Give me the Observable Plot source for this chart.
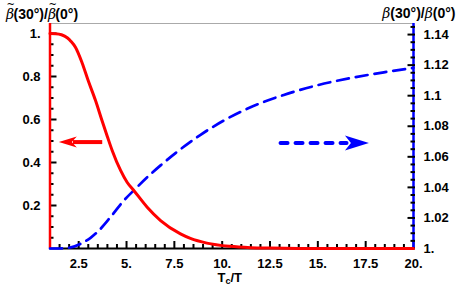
<!DOCTYPE html>
<html><head><meta charset="utf-8">
<script src="https://cdn.jsdelivr.net/npm/d3@7"></script>
<script src="https://cdn.jsdelivr.net/npm/@observablehq/plot@0.6"></script>
<style>body{margin:0;background:#fff;}</style>
</head><body><div id="chart"></div>
<script>
// Red curve: ratio of tilde-beta (left axis)
const redT = [1, 1.3, 1.6, 1.9, 2.1, 2.33, 2.68, 3.0, 3.38, 3.7, 4.0, 4.25, 4.69, 5.03, 5.38, 6.08, 6.78, 7.82, 8.34, 9.2, 10.4, 11.5, 12.5, 14, 16, 18, 20];
const redV = [1.0, 0.999, 0.994, 0.98, 0.963, 0.936, 0.863, 0.78, 0.688, 0.6, 0.52, 0.456, 0.363, 0.308, 0.27, 0.192, 0.13, 0.068, 0.047, 0.025, 0.01, 0.004, 0.002, 0.0005, 0.0001, 0, 0];
// Blue curve: ratio of beta (right axis)
const blueT = [1, 1.5, 2.0, 2.59, 3.12, 3.47, 4.16, 4.86, 5.38, 6.08, 6.78, 7.65, 8.87, 10.08, 11.48, 13.22, 14.97, 16.7, 18.45, 20];
const blueV = [1.0, 1.0, 1.0005, 1.003, 1.007, 1.0107, 1.0205, 1.0314, 1.038, 1.0466, 1.0544, 1.0633, 1.0744, 1.0837, 1.0924, 1.1005, 1.1068, 1.1115, 1.1153, 1.1182];

const xTicks = [2.5, 5, 7.5, 10, 12.5, 15, 17.5, 20];
const leftTicks = [0.2, 0.4, 0.6, 0.8, 1];
const rightTicks = [1, 1.02, 1.04, 1.06, 1.08, 1.1, 1.12, 1.14];
const xMinor = d3.range(1.5, 20, 0.5).filter(v => !xTicks.includes(v));
const leftMinor = d3.range(0.05, 1.04, 0.05).map(v => +v.toFixed(2)).filter(v => !leftTicks.includes(v));
const rightMinor = d3.range(1.005, 1.146, 0.005).map(v => +v.toFixed(3)).filter(v => !rightTicks.includes(v));

const xLabel = "Tc/T";
const leftTitle = "β̃(30°)/β̃(0°)";
const rightTitle = "β(30°)/β(0°)";

const redArrow = [{tail: 3.73, shaftEnd: 2.2, tip: 1.46, y: 0.495}];
const blueArrow = [{tail: 13.05, shaftEnd: 16.5, tip: 17.67, y: 1.069}];

const xDomain = [1, 20];
const yTop = 1.0465;
const rightToLeft = v => (v - 1) / 0.1407;

const fmt = v => { const s = String(+v.toFixed(3)); return s.includes(".") ? s : s + "."; };
const rightLabel = new Map(rightTicks.map(v => [rightToLeft(v), fmt(v)]));

const red = redT.map((t, i) => ({T: t, v: redV[i]}));
const blue = blueT.map((t, i) => ({T: t, v: rightToLeft(blueV[i])}));

function stealth(len, half, notch, dir) {
  const s = -dir;
  return {draw(ctx) {
    ctx.moveTo(0, 0);
    ctx.lineTo(s * len, -half);
    ctx.lineTo(s * notch, 0);
    ctx.lineTo(s * len, half);
    ctx.closePath();
  }};
}

const RED = "#ff0000", BLUE = "#0000ff";

const chart = Plot.plot({
  width: 463, height: 286,
  marginLeft: 49.5, marginRight: 50, marginTop: 23, marginBottom: 38,
  x: {domain: xDomain},
  y: {domain: [0, yTop]},
  style: {fontFamily: "'Liberation Sans', Arial, sans-serif", fontSize: "13px", fontWeight: "bold", background: "#fff", color: "#000"},
  marks: [
    Plot.ruleY([yTop], {stroke: "#aaaaaa", strokeWidth: 1}),
    Plot.ruleY([0], {stroke: "#000", strokeWidth: 2}),
    // tick marks (inward)
    Plot.axisX(xTicks, {anchor: "bottom", tickSize: 7, dy: -7, fill: "none", label: null, strokeWidth: 2}),
    Plot.axisX(xMinor, {anchor: "bottom", tickSize: 4, dy: -4, fill: "none", label: null, strokeWidth: 2}),
    Plot.axisY(leftTicks, {anchor: "left", tickSize: 7, dx: 7, fill: "none", label: null, strokeWidth: 2}),
    Plot.axisY(leftMinor, {anchor: "left", tickSize: 4, dx: 4, fill: "none", label: null, strokeWidth: 2}),
    Plot.ruleX([xDomain[0]], {stroke: RED, strokeWidth: 2.5}),
    Plot.ruleX([xDomain[1]], {stroke: BLUE, strokeWidth: 2.5}),
    Plot.axisY(rightTicks.map(rightToLeft), {anchor: "right", tickSize: 7.5, dx: -6.5, fill: "none", label: null, strokeWidth: 2}),
    Plot.axisY(rightMinor.map(rightToLeft), {anchor: "right", tickSize: 4.5, dx: -3.5, fill: "none", label: null, strokeWidth: 2}),
    // tick labels
    Plot.axisX(xTicks, {anchor: "bottom", tickSize: 0, tickPadding: 10, stroke: "none", label: null, tickFormat: fmt, fontSize: 13}),
    Plot.axisY(leftTicks, {anchor: "left", tickSize: 0, tickPadding: 9.5, stroke: "none", label: null, tickFormat: fmt, fontSize: 13}),
    Plot.axisY(rightTicks.map(rightToLeft), {anchor: "right", tickSize: 0, tickPadding: 10, stroke: "none", label: null, tickFormat: d => rightLabel.get(d), fontSize: 13}),
    // curves
    Plot.line(blue, {x: "T", y: "v", stroke: BLUE, strokeWidth: 2.7, strokeDasharray: "12,7", curve: "monotone-x"}),
    Plot.line(red, {x: "T", y: "v", stroke: RED, strokeWidth: 3, curve: "monotone-x"}),
    // arrows
    Plot.link(redArrow, {x1: "tail", x2: "shaftEnd", y1: "y", y2: "y", stroke: RED, strokeWidth: 4}),
    Plot.dot(redArrow, {x: "tip", y: "y", symbol: stealth(18, 5.5, 13, -1), fill: RED, stroke: "none"}),
    Plot.link(blueArrow, {x1: "tail", x2: "shaftEnd", y1: d => rightToLeft(d.y), y2: d => rightToLeft(d.y), stroke: BLUE, strokeWidth: 4, strokeDasharray: "7,8", strokeLinecap: "round"}),
    Plot.dot(blueArrow, {x: "tip", y: d => rightToLeft(d.y), symbol: stealth(24, 7.5, 18, 1), fill: BLUE, stroke: "none"}),
    // titles and axis label
    Plot.text([leftTitle], {frameAnchor: "top-left", dx: -44, dy: -9, textAnchor: "start", lineAnchor: "middle", fontSize: 14}),
    Plot.text([rightTitle], {frameAnchor: "top-right", dx: 42, dy: -10, textAnchor: "end", lineAnchor: "middle", fontSize: 14}),
    Plot.text([xLabel], {frameAnchor: "bottom", dx: -2, dy: 29, textAnchor: "middle", lineAnchor: "middle", fontSize: 13})
  ]
});

// Rich text: italic beta (with tilde), subscript c
d3.select(chart).selectAll("text").each(function() {
  const t = this.textContent;
  const el = d3.select(this);
  if (t === leftTitle || t === rightTitle) {
    el.text(null);
    const parts = t.split(/(β̃|β)/).filter(p => p.length);
    let pendingDy = 0;
    for (const p of parts) {
      if (p.startsWith("β")) {
        el.append("tspan").text("β").attr("font-style", "italic").attr("font-weight", "normal")
          .attr("font-family", "'DejaVu Serif', serif").attr("font-size", 14)
          .attr("dy", pendingDy || null);
        pendingDy = 0;
        if (p.length > 1) {
          el.append("tspan").text("~").attr("font-weight", "normal").attr("font-size", 10)
            .attr("font-family", "'DejaVu Sans', sans-serif")
            .attr("dx", -7.5).attr("dy", -10.5);
          pendingDy = 10.5;
        }
      } else {
        el.append("tspan").text(p).attr("dy", pendingDy || null).attr("dx", pendingDy ? -1.5 : null);
        pendingDy = 0;
      }
    }
  } else if (t === xLabel) {
    el.text(null);
    el.append("tspan").text("T");
    el.append("tspan").text("c").attr("font-size", 9).attr("dy", 2);
    el.append("tspan").text("/T").attr("dy", -2);
  }
});

document.getElementById("chart").appendChild(chart);
</script>
</body></html>
